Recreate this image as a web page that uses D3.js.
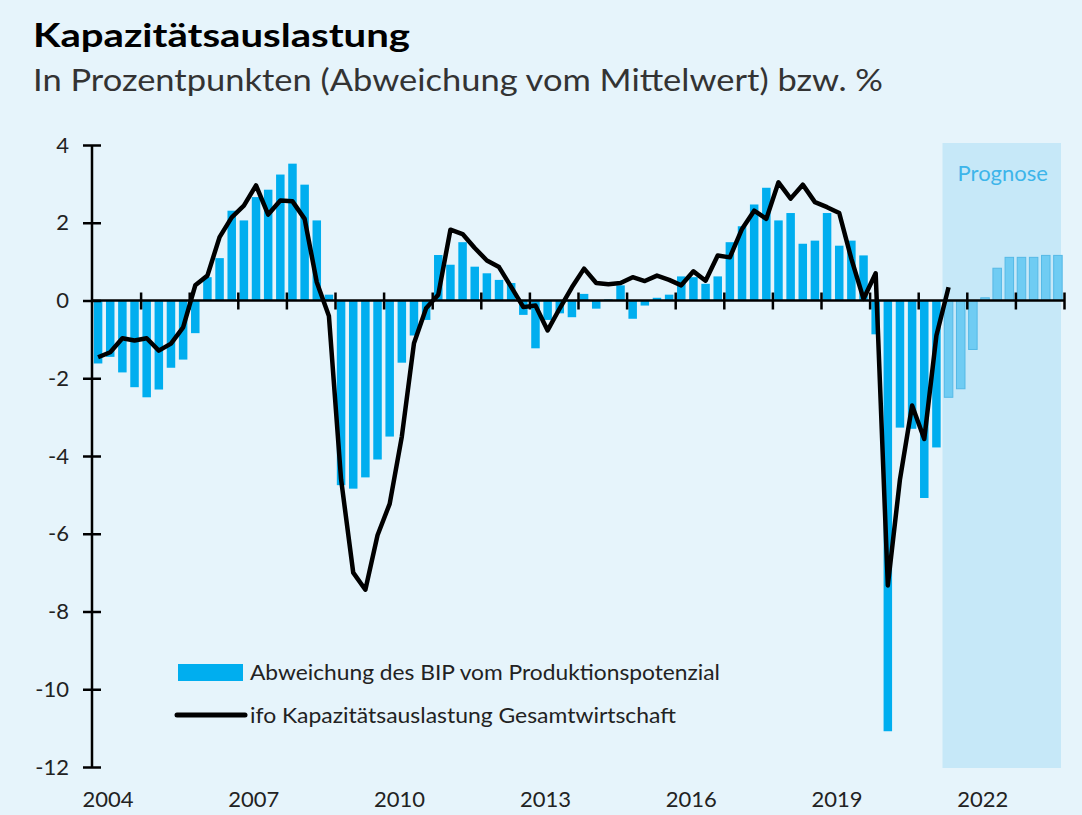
<!DOCTYPE html>
<html>
<head>
<meta charset="utf-8">
<script src="https://cdnjs.cloudflare.com/ajax/libs/d3/7.8.5/d3.min.js"></script>
<style>
body { margin: 0; background: #e6f4fb; }
text { font-family: Lato, "Noto Sans", sans-serif; }
</style>
</head>
<body>
<div id="chart"></div>
<script>
// categories: quarters 2004Q1 .. 2023Q4
var years = d3.range(2004, 2024);
var quarters = [];
years.forEach(function(yr){
  ["Q1", "Q2", "Q3", "Q4"].forEach(function(q){ quarters.push(yr + q); });
});
var forecastStart = "2021Q3";

// Abweichung des BIP vom Produktionspotenzial (quarterly, incl. forecast)
var bip = [
  -1.62, -1.45, -1.85, -2.23, -2.49, -2.29, -1.73, -1.52,
  -0.84, 0.60, 1.09, 2.31, 2.06, 2.66, 2.85, 3.24,
  3.52, 2.98, 2.06, 0.15, -4.75, -4.84, -4.55, -4.09,
  -3.50, -1.60, -0.90, -0.50, 1.17, 0.92, 1.50, 0.87,
  0.70, 0.53, 0.45, -0.37, -1.23, -0.50, -0.33, -0.43,
  0.17, -0.21, 0.03, 0.39, -0.47, -0.13, 0.07, 0.15,
  0.62, 0.60, 0.43, 0.62, 1.50, 1.91, 2.47, 2.90,
  2.06, 2.25, 1.46, 1.54, 2.25, 1.41, 1.54, 1.16,
  -0.87, -11.08, -3.27, -3.30, -5.08, -3.78, -2.49, -2.27,
  -1.26, 0.07, 0.83, 1.11, 1.11, 1.11, 1.16, 1.16
];

// ifo Kapazitätsauslastung Gesamtwirtschaft (2004Q1 .. 2021Q3)
var ifo = [
  -1.46, -1.33, -0.97, -1.03, -0.97, -1.29, -1.11, -0.69,
  0.39, 0.64, 1.63, 2.14, 2.44, 2.96, 2.21, 2.57,
  2.55, 2.10, 0.47, -0.40, -4.60, -7.00, -7.44, -6.04,
  -5.23, -3.50, -1.10, -0.20, 0.15, 1.82, 1.71, 1.35,
  1.03, 0.86, 0.35, -0.17, -0.13, -0.77, -0.20, 0.34,
  0.82, 0.45, 0.42, 0.45, 0.60, 0.50, 0.64, 0.53,
  0.39, 0.75, 0.51, 1.16, 1.11, 1.84, 2.31, 2.10,
  3.04, 2.62, 2.98, 2.53, 2.40, 2.25, 1.07, 0.04,
  0.70, -7.33, -4.60, -2.70, -3.56, -0.90, 0.34
];

var yTicks = [4, 2, 0, -2, -4, -6, -8, -10, -12];
var yearTicks = d3.range(2005, 2025);
var yearLabels = [2004, 2007, 2010, 2013, 2016, 2019, 2022];

var margin = {left: 92, right: 18, top: 145, bottom: 48};
var width = 1082 - margin.left - margin.right,
    height = 815 - margin.top - margin.bottom;

var x = d3.scaleBand().domain(quarters).range([0, width]).paddingInner(0.3).paddingOuter(0.15);
var xYear = d3.scaleLinear().domain([2004, 2024]).range([0, width]);
var y = d3.scaleLinear().domain([-12, 4]).range([height, 0]);

var blue = "#00aeef";
var fIdx = quarters.indexOf(forecastStart);

var root = d3.select("#chart").append("svg")
  .attr("width", 1082)
  .attr("height", 815)
  .style("display", "block");

root.append("rect").attr("width", 1082).attr("height", 815).style("fill", "#e6f4fb");

//Title
root.append("text")
  .attr("x", 33).attr("y", 47)
  .attr("textLength", 377).attr("lengthAdjust", "spacingAndGlyphs")
  .style("font-size", "33px").style("font-weight", "bold").style("fill", "#000")
  .text("Kapazitätsauslastung");

root.append("text")
  .attr("x", 33).attr("y", 91)
  .attr("textLength", 850).attr("lengthAdjust", "spacingAndGlyphs")
  .style("font-size", "31px").style("fill", "#333")
  .text("In Prozentpunkten (Abweichung vom Mittelwert) bzw. %");

var svg = root.append("g")
  .attr("transform", "translate(" + margin.left + "," + margin.top + ")");

//Forecast area
svg.append("rect")
  .attr("x", xYear(2021.5))
  .attr("y", y(4) - 2)
  .attr("width", xYear(2024) - xYear(2021.5) - 3)
  .attr("height", y(-12) - y(4) + 3)
  .style("fill", "#c6e8f8");

svg.append("text")
  .attr("x", (xYear(2021.5) + xYear(2024) - 3) / 2 + 1)
  .attr("y", y(3.08))
  .style("text-anchor", "middle")
  .style("font-size", "22px")
  .style("fill", "#3db5ea")
  .text("Prognose");

//Bars
svg.selectAll(".bar")
  .data(bip)
  .enter().append("rect")
  .attr("class", "bar")
  .attr("x", function(d, i){ return x(quarters[i]); })
  .attr("width", x.bandwidth())
  .attr("y", function(d){ return y(Math.max(0, d)); })
  .attr("height", function(d){ return Math.abs(y(d) - y(0)); })
  .style("fill", function(d, i){ return i >= fIdx ? "#6fccf3" : blue; })
  .style("stroke", function(d, i){ return i >= fIdx ? "#55b9e6" : "none"; })
  .style("stroke-width", 1);

//Y axis
svg.append("line")
  .attr("x1", 0).attr("x2", 0)
  .attr("y1", y(4)).attr("y2", y(-12))
  .style("stroke", "#000").style("stroke-width", 2.5);

var yAxis = svg.append("g")
  .attr("transform", "translate(9,0)")
  .call(d3.axisLeft(y).tickValues(yTicks).tickSize(18).tickPadding(14)
    .tickFormat(function(d){ return "" + d; }));
yAxis.select(".domain").remove();
yAxis.selectAll("line").style("stroke", "#000").style("stroke-width", 2.5);
yAxis.selectAll("text").style("font-size", "22px").style("fill", "#222")
  .style("font-family", "Lato, sans-serif");

//Zero line with year ticks
svg.append("line")
  .attr("x1", 0).attr("x2", width)
  .attr("y1", y(0)).attr("y2", y(0))
  .style("stroke", "#000").style("stroke-width", 2.5);

var xAxis = svg.append("g")
  .attr("transform", "translate(0," + (y(0) - 8) + ")")
  .call(d3.axisBottom(xYear).tickValues(yearTicks).tickSize(17).tickFormat(""));
xAxis.select(".domain").remove();
xAxis.selectAll("line").style("stroke", "#000").style("stroke-width", 2.5);

//Year labels
svg.append("g").selectAll(".year")
  .data(yearLabels)
  .enter().append("text")
  .attr("class", "year")
  .attr("x", function(d){ return xYear(d) + 16; })
  .attr("y", height + 40)
  .style("text-anchor", "middle")
  .style("font-size", "22px")
  .style("fill", "#222")
  .text(function(d){ return d; });

//ifo line
var line = d3.line()
  .x(function(d, i){ return x(quarters[i]) + x.bandwidth() / 2; })
  .y(function(d){ return y(d); });

svg.append("path")
  .datum(ifo)
  .style("fill", "none")
  .style("stroke", "#000")
  .style("stroke-width", "4.5px")
  .style("stroke-linejoin", "round")
  .attr("d", line);

//Legend
var legend = root.append("g");
legend.append("rect")
  .attr("x", 178).attr("y", 664).attr("width", 65).attr("height", 17)
  .style("fill", blue);
legend.append("text")
  .attr("x", 250).attr("y", 680)
  .attr("textLength", 470).attr("lengthAdjust", "spacingAndGlyphs")
  .style("font-size", "21px").style("fill", "#222")
  .text("Abweichung des BIP vom Produktionspotenzial");
legend.append("line")
  .attr("x1", 177).attr("x2", 245).attr("y1", 715).attr("y2", 715)
  .style("stroke", "#000").style("stroke-width", 5).style("stroke-linecap", "round");
legend.append("text")
  .attr("x", 250).attr("y", 723)
  .attr("textLength", 426).attr("lengthAdjust", "spacingAndGlyphs")
  .style("font-size", "21px").style("fill", "#222")
  .text("ifo Kapazitätsauslastung Gesamtwirtschaft");
</script>
</body>
</html>
